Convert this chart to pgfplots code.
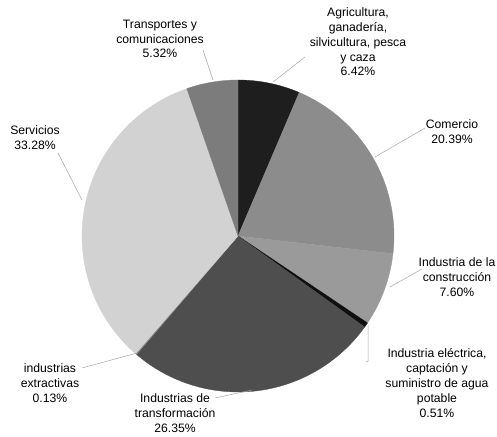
\documentclass[border=0pt]{standalone}
\usepackage{pgfplots}
\pgfplotsset{compat=1.18}
\usepackage{pgfplotstable}
\usepackage{fontspec}
\setmainfont{Liberation Sans}

\definecolor{cagr}{HTML}{1E1E1E}
\definecolor{ccom}{HTML}{8C8C8C}
\definecolor{ccon}{HTML}{9A9A9A}
\definecolor{cele}{HTML}{101010}
\definecolor{ctra}{HTML}{4E4E4E}
\definecolor{cext}{HTML}{8A8A8A}
\definecolor{cser}{HTML}{D2D2D2}
\definecolor{ctrn}{HTML}{7C7C7C}

\tikzset{lbl/.style={font=\fontsize{12.2}{14.8}\selectfont, align=center, inner sep=0pt}}

\pgfplotstableread{
name value color
Agricultura 6.42 cagr
Comercio 20.39 ccom
Construccion 7.60 ccon
Electrica 0.51 cele
Transformacion 26.35 ctra
Extractivas 0.13 cext
Servicios 33.28 cser
Transportes 5.32 ctrn
}\piedata

\begin{document}
\begin{tikzpicture}
\begin{axis}[x=1pt,y=1pt,xmin=0,xmax=497,ymin=0,ymax=436,hide axis,clip=false,scale only axis]
\path (axis cs:0,0) rectangle (axis cs:497,436);
\pgfplotstablegetrowsof{\piedata}
\pgfmathtruncatemacro\N{\pgfplotsretval-1}
\gdef\cum{90}
\pgfplotsforeachungrouped \i in {0,...,\N}{%
  \pgfplotstablegetelem{\i}{value}\of\piedata \let\v\pgfplotsretval
  \pgfplotstablegetelem{\i}{color}\of\piedata \let\c\pgfplotsretval
  \pgfmathsetmacro\a{\cum}%
  \pgfmathsetmacro\b{\cum-3.6*\v}%
  \edef\temp{\noexpand\fill[\c, draw=\c, line width=0.3pt] (axis cs:238,200) -- ++(\a:156pt) arc[start angle=\a, end angle=\b, radius=156pt] -- cycle;}%
  \temp
  \global\let\cum\b
}

% leader lines
\begin{scope}[gray!70, line width=0.5pt]
\draw (axis cs:203,386) -- (axis cs:213,356);
\draw (axis cs:305,379) -- (axis cs:273,354);
\draw (axis cs:425,308) -- (axis cs:375,279);
\draw (axis cs:422,167) -- (axis cs:390,149);
\draw (axis cs:366,74) -- (axis cs:368,75) -- (axis cs:368,111);
\draw (axis cs:215,38) -- (axis cs:252,46);
\draw (axis cs:82,68) -- (axis cs:137,83);
\draw (axis cs:58,283) -- (axis cs:82,236);
\end{scope}

\node[lbl] at (axis cs:160,397) {Transportes y\\comunicaciones\\5.32\%};
\node[lbl] at (axis cs:358,394) {Agricultura,\\ganadería,\\silvicultura, pesca\\y caza\\6.42\%};
\node[lbl] at (axis cs:452,304) {Comercio\\20.39\%};
\node[lbl] at (axis cs:457,159) {Industria de la\\construcción\\7.60\%};
\node[lbl] at (axis cs:437,53) {Industria eléctrica,\\captación y\\suministro de agua\\potable\\0.51\%};
\node[lbl] at (axis cs:175,23) {Industrias de\\transformación\\26.35\%};
\node[lbl] at (axis cs:50,53) {industrias\\extractivas\\0.13\%};
\node[lbl] at (axis cs:35,298) {Servicios\\33.28\%};
\end{axis}
\end{tikzpicture}
\end{document}
